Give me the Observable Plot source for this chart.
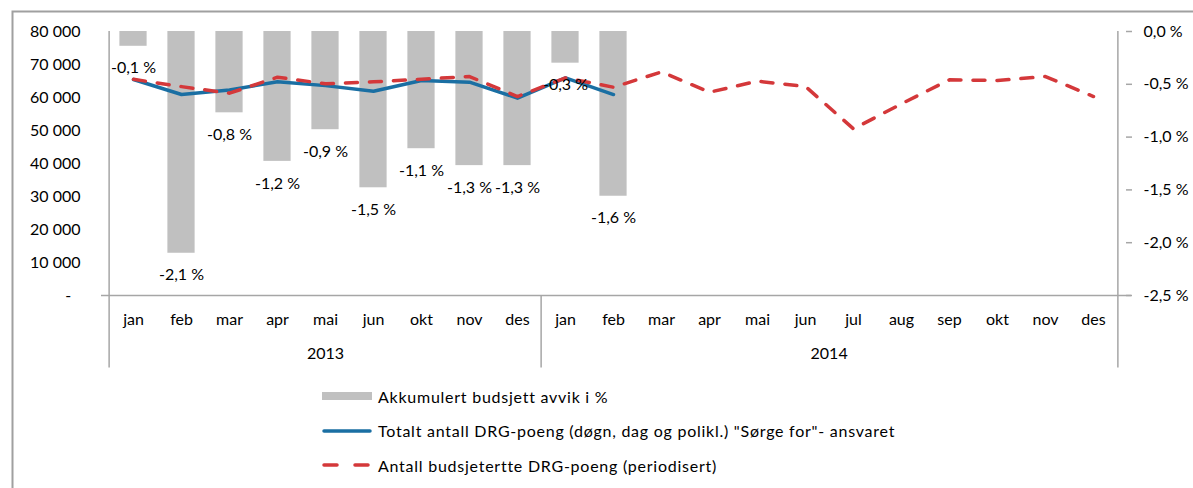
<!DOCTYPE html>
<html><head><meta charset="utf-8">
<script src="https://cdn.jsdelivr.net/npm/d3@7"></script>
<script src="https://cdn.jsdelivr.net/npm/@observablehq/plot@0.6"></script>
<style>
html,body{margin:0;padding:0;background:#fff;overflow:hidden;}
body{width:1193px;height:488px;position:relative;font-family:Lato,"Open Sans",sans-serif;color:#000;}
#chart{position:absolute;left:0;top:0;z-index:1;}
#legend{position:absolute;left:322px;top:379px;font-size:16px;letter-spacing:0.75px;z-index:2;}
.row{display:flex;align-items:center;height:34.5px;}
.row svg{margin-right:6px;flex:none;}
</style></head><body>
<div id="chart"></div>
<div id="legend"></div>
<script>
// ---- data ----
const years = ["2013", "2014"];
const months2013 = ["jan","feb","mar","apr","mai","jun","okt","nov","des"];
const months2014 = ["jan","feb","mar","apr","mai","jun","jul","aug","sep","okt","nov","des"];
// Akkumulert budsjett avvik i % (right axis)
const avvik2013 = [-0.14, -2.10, -0.77, -1.23, -0.93, -1.48, -1.11, -1.27, -1.27];
const avvik2014 = [-0.30, -1.56];
// Totalt antall DRG-poeng (left axis)
const totalt2013 = [65450, 60900, 62300, 64750, 63600, 61900, 65150, 64650, 59800];
const totalt2014 = [65950, 60900];
// Antall budsjetertte DRG-poeng (periodisert)
const budsjett2013 = [65500, 63300, 61300, 66150, 64150, 64750, 65550, 66360, 60300];
const budsjett2014 = [65950, 63100, 67770, 61600, 64950, 63330, 50500, 58100, 65350, 65150, 66360, 60300];
const leftTicks = [0, 10000, 20000, 30000, 40000, 50000, 60000, 70000, 80000];
const pctTicks = [0, -0.5, -1.0, -1.5, -2.0, -2.5];
const legendLabels = [
  "Akkumulert budsjett avvik i %",
  "Totalt antall DRG-poeng (døgn, dag og polikl.) \"Sørge for\"- ansvaret",
  "Antall budsjetertte DRG-poeng (periodisert)"
];

// ---- build rows ----
const monthsByYear = {"2013": months2013, "2014": months2014};
const avvikByYear = {"2013": avvik2013, "2014": avvik2014};
const totaltByYear = {"2013": totalt2013, "2014": totalt2014};
const budByYear = {"2013": budsjett2013, "2014": budsjett2014};
const rows = [];
for (const y of years) {
  monthsByYear[y].forEach((m, i) => {
    rows.push({key: y + "-" + m, year: y, month: m,
      pct: avvikByYear[y][i] ?? null,
      totalt: totaltByYear[y][i] ?? null,
      bud: budByYear[y][i] ?? null});
  });
}
const keys = rows.map(d => d.key);
const barRows = rows.filter(d => d.pct != null);
const totRows = rows.filter(d => d.totalt != null);
const budRows = rows.filter(d => d.bud != null);

const leftMax = 80000, pctMin = -2.5;
const toLeft = p => leftMax * (1 - p / pctMin);
const fromLeft = v => pctMin * (1 - v / leftMax);
const fmtPct = p => (Math.abs(p) < 1e-9 ? 0 : p).toFixed(1).replace(".", ",") + " %";
const fmtLeft = v => v === 0 ? "-\u2007" : d3.format(",")(v).replace(/,/g, " ");

// ---- layout ----
const W = 1193, H = 488, mL = 101, mR = 68, mT = 31, mB = H - 295;
const step = (W - mL - mR) / keys.length;
const barW = 28;
const axisGray = "#A6A6A6";
const blue = "#1A6FA3", red = "#D4383A", barGray = "#C0C0C0";
const ext = -22000;
const fs = 16;

const mid = y => {
  const ms = monthsByYear[y]; const c = (ms.length - 1) / 2; const k = Math.ceil(c);
  return {key: y + "-" + ms[k], dx: (c - k) * step, year: y};
};
const y13 = mid("2013"), y14 = mid("2014");

const chart = Plot.plot({
  width: W, height: H,
  marginLeft: mL, marginRight: mR, marginTop: mT, marginBottom: mB,
  style: {fontFamily: "Lato, 'Open Sans', sans-serif", fontSize: fs + "px", background: "transparent", color: "#000", overflow: "hidden"},
  x: {type: "band", domain: keys, padding: 0, axis: null},
  y: {domain: [0, leftMax], axis: null},
  marks: [
    // outer chart-area border
    Plot.frame({stroke: "#A0A0A0", strokeWidth: 2, insetLeft: -(mL - 12), insetTop: -(mT - 11), insetRight: -(mR + 40), insetBottom: -(mB + 40)}),
    Plot.barY(barRows, {x: "key", y1: leftMax, y2: d => toLeft(d.pct), fill: barGray,
      insetLeft: (step - barW) / 2, insetRight: (step - barW) / 2}),
    Plot.ruleY([0], {stroke: axisGray, strokeWidth: 1.5, insetRight: -6}),
    Plot.ruleX([keys[0]], {dx: -step / 2, y1: ext, y2: leftMax, stroke: axisGray, strokeWidth: 1.5}),
    Plot.ruleX([y14.year + "-" + months2014[0]], {dx: -step / 2, y1: ext, y2: 0, stroke: axisGray, strokeWidth: 1.5}),
    Plot.ruleX([keys[keys.length - 1]], {dx: step / 2, y1: ext, y2: leftMax, stroke: axisGray, strokeWidth: 1.5}),
    Plot.line(totRows, {x: "key", y: "totalt", stroke: blue, strokeWidth: 3.5, strokeLinejoin: "round"}),
    Plot.line(budRows, {x: "key", y: "bud", stroke: red, strokeWidth: 3.5, strokeDasharray: "12,12", strokeLinecap: "round", strokeLinejoin: "round"}),
    Plot.text(barRows, {x: "key", y: d => toLeft(d.pct), dy: 22, text: d => fmtPct(d.pct), fontSize: fs, fill: "#000"}),
    Plot.axisX({anchor: "bottom", tickSize: 0, tickPadding: 18, tickFormat: k => k.split("-")[1], fontSize: fs, label: null}),
    Plot.text([y13], {x: "key", text: "year", frameAnchor: "bottom", dy: 63, dx: y13.dx, fontSize: fs, fill: "#000"}),
    Plot.text([y14], {x: "key", text: "year", frameAnchor: "bottom", dy: 63, dx: y14.dx, fontSize: fs, fill: "#000"}),
    Plot.axisY(leftTicks, {anchor: "left", tickSize: 0, tickPadding: 21, tickFormat: fmtLeft, fontSize: fs, label: null}),
    Plot.axisY(pctTicks.map(toLeft), {anchor: "right", tickSize: 6, tickPadding: 12, stroke: axisGray, strokeWidth: 1.5,
      tickFormat: v => fmtPct(fromLeft(v)), fontSize: fs, label: null})
  ]
});
document.getElementById("chart").appendChild(chart);

// ---- legend ----
const swatches = [
  `<svg width="50" height="12"><rect x="0" y="2" width="50" height="8" fill="${barGray}"/></svg>`,
  `<svg width="50" height="12"><line x1="2" y1="6" x2="48" y2="6" stroke="${blue}" stroke-width="3.5" stroke-linecap="round"/></svg>`,
  `<svg width="50" height="12"><line x1="2" y1="6" x2="48" y2="6" stroke="${red}" stroke-width="3.5" stroke-linecap="round" stroke-dasharray="13,18"/></svg>`
];
const leg = document.getElementById("legend");
legendLabels.forEach((t, i) => {
  const r = document.createElement("div");
  r.className = "row";
  r.innerHTML = swatches[i];
  const s = document.createElement("span");
  s.textContent = t;
  r.appendChild(s);
  leg.appendChild(r);
});
</script></body></html>
